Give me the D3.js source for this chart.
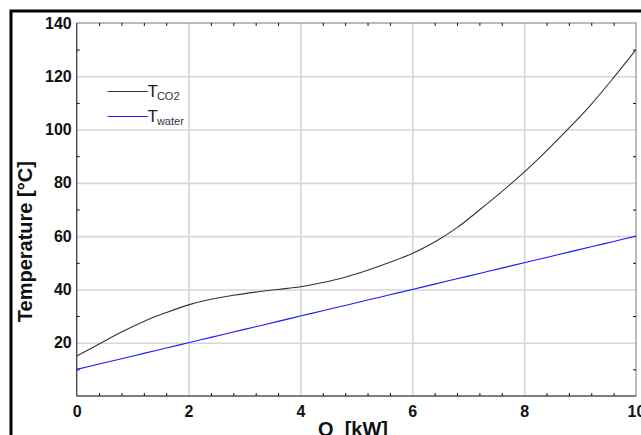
<!DOCTYPE html>
<html><head><meta charset="utf-8">
<script src="https://cdn.jsdelivr.net/npm/d3@7"></script>
<style>
html,body{margin:0;padding:0;background:#fff;overflow:hidden;}
text{font-family:"Liberation Sans",Arial,sans-serif;}
</style></head>
<body>
<svg id="c" width="641" height="435"></svg>
<script>
// Data
const qValues = [0, 0.4, 0.8, 1.2, 1.6, 2, 2.4, 2.8, 3.2, 3.6, 4, 4.4, 4.8, 5.2, 5.6, 6, 6.4, 6.8, 7.2, 7.6, 8, 8.4, 8.8, 9.2, 9.6, 10];
const tCO2 =    [15, 19.5, 24, 28, 31.3, 34.2, 36.3, 37.8, 39, 40, 41, 42.6, 44.6, 47.2, 50.2, 53.5, 57.8, 63.2, 69.8, 76.7, 84, 92, 100.5, 109.5, 119.5, 130];
const tWater =  [10, 12, 14, 16, 18, 20, 22, 24, 26, 28, 30, 32, 34, 36, 38, 40, 42, 44, 46, 48, 50, 52, 54, 56, 58, 60];
const xTickLabels = [0, 2, 4, 6, 8, 10];
const yTickLabels = [20, 40, 60, 80, 100, 120, 140];
const seriesNames = ["CO2", "water"];

const svg = d3.select("#c");
const L = 76.7, R = 636, T = 23, B = 396;
const x = d3.scaleLinear().domain([0, 10]).range([L, R]);
const y = d3.scaleLinear().domain([0, 140]).range([B, T]);

// outer frame
svg.append("rect").attr("x", 11).attr("y", 11).attr("width", 700).attr("height", 500)
  .attr("fill", "none").attr("stroke", "#000").attr("stroke-width", 3);

// gridlines
svg.append("g").attr("transform", `translate(0,${B})`)
  .call(d3.axisBottom(x).tickValues(d3.range(2, 10, 2)).tickSize(-(B - T)).tickFormat(""))
  .call(g => g.select(".domain").remove())
  .call(g => g.selectAll("line").attr("stroke", "#d6d6d6").attr("stroke-width", 1.6));
svg.append("g").attr("transform", `translate(${L},0)`)
  .call(d3.axisLeft(y).tickValues(d3.range(20, 140, 20)).tickSize(-(R - L)).tickFormat(""))
  .call(g => g.select(".domain").remove())
  .call(g => g.selectAll("line").attr("stroke", "#d6d6d6").attr("stroke-width", 1.6));

// plot frame
svg.append("rect").attr("x", L).attr("y", T).attr("width", R - L).attr("height", B - T)
  .attr("fill", "none").attr("stroke", "#777").attr("stroke-width", 1);
svg.append("line").attr("x1", L).attr("x2", L).attr("y1", T).attr("y2", B).attr("stroke", "#444").attr("stroke-width", 1.2);
svg.append("line").attr("x1", L).attr("x2", R).attr("y1", B).attr("y2", B).attr("stroke", "#444").attr("stroke-width", 1.2);

// minor ticks (inward)
const minorX = d3.range(0.4, 10, 0.4).filter(v => Math.abs(v / 2 - Math.round(v / 2)) > 0.01);
const minorY = d3.range(10, 140, 20);
function tickStyle(g) { g.select(".domain").remove(); g.selectAll("line").attr("stroke", "#111").attr("stroke-width", 1); }
svg.append("g").attr("transform", `translate(0,${B})`).call(d3.axisBottom(x).tickValues(minorX).tickSize(-3).tickFormat("")).call(tickStyle);
svg.append("g").attr("transform", `translate(0,${T})`).call(d3.axisTop(x).tickValues(minorX).tickSize(-3).tickFormat("")).call(tickStyle);
svg.append("g").attr("transform", `translate(${L},0)`).call(d3.axisLeft(y).tickValues(minorY).tickSize(-3).tickFormat("")).call(tickStyle);
svg.append("g").attr("transform", `translate(${R},0)`).call(d3.axisRight(y).tickValues(minorY).tickSize(-3).tickFormat("")).call(tickStyle);

// tick labels
svg.append("g").attr("transform", `translate(0,${B})`)
  .call(d3.axisBottom(x).tickValues(xTickLabels).tickSize(0).tickPadding(10).tickFormat(d3.format("d")))
  .call(g => g.select(".domain").remove())
  .call(g => g.selectAll("text").attr("font-size", 16).attr("font-weight", "bold").attr("fill", "#111")
    .attr("font-family", "'Liberation Sans',Arial,sans-serif"));
svg.append("g").attr("transform", `translate(${L},0)`)
  .call(d3.axisLeft(y).tickValues(yTickLabels).tickSize(0).tickPadding(5).tickFormat(d3.format("d")))
  .call(g => g.select(".domain").remove())
  .call(g => g.selectAll("text").attr("font-size", 16).attr("font-weight", "bold").attr("fill", "#111")
    .attr("font-family", "'Liberation Sans',Arial,sans-serif"));

// axis titles
svg.append("text").attr("x", 353).attr("y", 436).attr("text-anchor", "middle")
  .attr("font-size", 20).attr("font-weight", "bold").attr("fill", "#111")
  .attr("xml:space", "preserve").text("Q  [kW]");
svg.append("text").attr("transform", "translate(32,241.7) rotate(-90)").attr("text-anchor", "middle")
  .attr("font-size", 20).attr("font-weight", "bold").attr("fill", "#111")
  .text("Temperature [°C]");

// lines
const data = [tCO2, tWater];
const colors = ["#333", "#1a1aff"];
const line = d3.line().x((d, i) => x(qValues[i])).y(d => y(d)).curve(d3.curveCatmullRom.alpha(0.5));
svg.selectAll("path.series").data(data).join("path").attr("class", "series")
  .attr("d", line).attr("fill", "none")
  .attr("stroke", (d, i) => colors[i]).attr("stroke-width", 1.1);

// legend
const leg = svg.append("g");
seriesNames.forEach((name, i) => {
  const ly = 91.5 + i * 25;
  leg.append("line").attr("x1", 107.5).attr("x2", 148).attr("y1", ly).attr("y2", ly)
    .attr("stroke", colors[i]).attr("stroke-width", 1.2);
  const t = leg.append("text").attr("x", 147.5).attr("y", ly + 5.5).attr("fill", "#222");
  t.append("tspan").attr("font-size", 17).text("T");
  t.append("tspan").attr("font-size", 11).attr("dx", -1).attr("dy", 2.5).attr("fill", "#334").text(name);
});
</script>
</body></html>
